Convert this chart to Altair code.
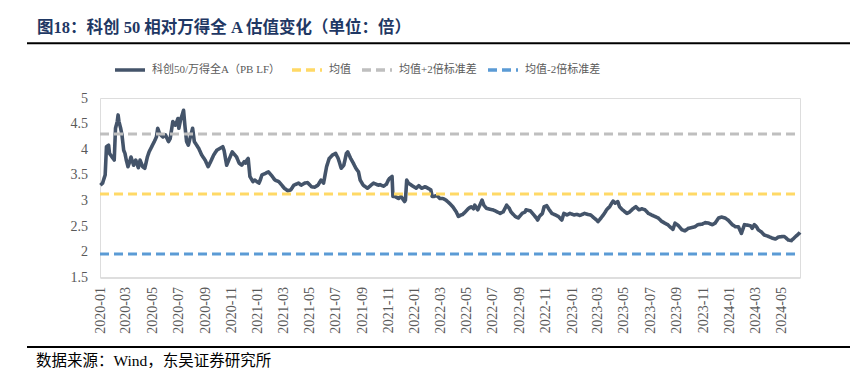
import altair as alt
import pandas as pd

# ---------------- data ----------------
dates = [
    "2020-01-02", "2020-01-07", "2020-01-13", "2020-01-16", "2020-01-21", "2020-01-23",
    "2020-02-03", "2020-02-06", "2020-02-10", "2020-02-12", "2020-02-14", "2020-02-18",
    "2020-02-21", "2020-02-25", "2020-02-28", "2020-03-02", "2020-03-06", "2020-03-10",
    "2020-03-13", "2020-03-19", "2020-03-24", "2020-03-30", "2020-04-03", "2020-04-09",
    "2020-04-14", "2020-04-20", "2020-04-24", "2020-05-06", "2020-05-11", "2020-05-14",
    "2020-05-18", "2020-05-26", "2020-06-01", "2020-06-08", "2020-06-12", "2020-06-18",
    "2020-06-24", "2020-06-30", "2020-07-02", "2020-07-06", "2020-07-13", "2020-07-16",
    "2020-07-20", "2020-07-24", "2020-07-30", "2020-08-03", "2020-08-07", "2020-08-17",
    "2020-08-24", "2020-09-01", "2020-09-08", "2020-09-14", "2020-09-21", "2020-09-28",
    "2020-10-12", "2020-10-15", "2020-10-21", "2020-10-26", "2020-11-03", "2020-11-09",
    "2020-11-13", "2020-11-19", "2020-11-25", "2020-12-01", "2020-12-04", "2020-12-07",
    "2020-12-10", "2020-12-14", "2020-12-21", "2020-12-25", "2021-01-04", "2021-01-07",
    "2021-01-11", "2021-01-19", "2021-01-26", "2021-02-04", "2021-02-10", "2021-02-19",
    "2021-02-26", "2021-03-04", "2021-03-12", "2021-03-19", "2021-03-26", "2021-04-06",
    "2021-04-12", "2021-04-20", "2021-04-27", "2021-05-06", "2021-05-13", "2021-05-21",
    "2021-05-28", "2021-06-03", "2021-06-10", "2021-06-16", "2021-06-24", "2021-07-01",
    "2021-07-07", "2021-07-14", "2021-07-20", "2021-07-26", "2021-07-29", "2021-08-05",
    "2021-08-11", "2021-08-17", "2021-08-23", "2021-08-27", "2021-09-03", "2021-09-13",
    "2021-09-17", "2021-09-27", "2021-10-08", "2021-10-12", "2021-10-20", "2021-10-27",
    "2021-11-01", "2021-11-03", "2021-11-09", "2021-11-11", "2021-11-16", "2021-11-24",
    "2021-11-30", "2021-12-08", "2021-12-10", "2021-12-13", "2021-12-17", "2021-12-24",
    "2022-01-04", "2022-01-10", "2022-01-17", "2022-01-25", "2022-02-07", "2022-02-10",
    "2022-02-14", "2022-02-21", "2022-02-28", "2022-03-07", "2022-03-14", "2022-03-22",
    "2022-03-30", "2022-04-07", "2022-04-12", "2022-04-18", "2022-04-22", "2022-04-28",
    "2022-05-06", "2022-05-12", "2022-05-17", "2022-05-20", "2022-05-27", "2022-06-06",
    "2022-06-10", "2022-06-16", "2022-06-24", "2022-07-01", "2022-07-11", "2022-07-18",
    "2022-07-25", "2022-08-02", "2022-08-08", "2022-08-12", "2022-08-22", "2022-08-29",
    "2022-09-07", "2022-09-14", "2022-09-16", "2022-09-26", "2022-10-10", "2022-10-13",
    "2022-10-17", "2022-10-24", "2022-10-28", "2022-11-03", "2022-11-09", "2022-11-15",
    "2022-11-23", "2022-11-30", "2022-12-08", "2022-12-13", "2022-12-20", "2022-12-27",
    "2023-01-05", "2023-01-12", "2023-01-19", "2023-01-30", "2023-02-06", "2023-02-13",
    "2023-02-21", "2023-02-27", "2023-03-02", "2023-03-09", "2023-03-17", "2023-03-22",
    "2023-03-29", "2023-04-06", "2023-04-11", "2023-04-17", "2023-04-21", "2023-04-28",
    "2023-05-08", "2023-05-15", "2023-05-22", "2023-05-29", "2023-06-05", "2023-06-12",
    "2023-06-19", "2023-06-27", "2023-07-04", "2023-07-12", "2023-07-20", "2023-07-27",
    "2023-08-04", "2023-08-11", "2023-08-16", "2023-08-23", "2023-08-28", "2023-09-05",
    "2023-09-13", "2023-09-20", "2023-09-28", "2023-10-09", "2023-10-13", "2023-10-20",
    "2023-10-30", "2023-11-06", "2023-11-14", "2023-11-22", "2023-11-29", "2023-12-07",
    "2023-12-14", "2023-12-22", "2023-12-29", "2024-01-08", "2024-01-15", "2024-01-22",
    "2024-01-29", "2024-02-05", "2024-02-19", "2024-02-23", "2024-02-28", "2024-03-04",
    "2024-03-08", "2024-03-15", "2024-03-22", "2024-04-01", "2024-04-09", "2024-04-17",
    "2024-04-24", "2024-05-06", "2024-05-09", "2024-05-17", "2024-05-24", "2024-06-03",
    "2024-06-11", "2024-06-13",
]

pb_values = [
    3.30, 3.34, 3.50, 4.05, 4.08, 3.92,
    3.79, 4.41, 4.54, 4.67, 4.54, 4.41,
    4.28, 3.98, 3.92, 3.79, 3.66, 3.76,
    3.85, 3.69, 3.79, 3.64, 3.79, 3.66,
    3.63, 3.85, 3.95, 4.15, 4.24, 4.41,
    4.31, 4.24, 4.28, 4.15, 4.21, 4.54,
    4.47, 4.60, 4.41, 4.57, 4.76, 4.47,
    4.15, 4.08, 4.28, 4.41, 4.15, 4.02,
    3.89, 3.79, 3.66, 3.76, 3.89, 3.98,
    4.05, 3.98, 3.69, 3.79, 3.95, 3.89,
    3.85, 3.73, 3.69, 3.76, 3.73, 3.79,
    3.82, 3.47, 3.37, 3.40, 3.34, 3.40,
    3.50, 3.53, 3.56, 3.47, 3.40, 3.37,
    3.30, 3.24, 3.19, 3.21, 3.30, 3.34,
    3.30, 3.34, 3.35, 3.27, 3.26, 3.30,
    3.40, 3.34, 3.66, 3.82, 3.89, 3.92,
    3.82, 3.63, 3.69, 3.92, 3.95, 3.82,
    3.73, 3.63, 3.56, 3.40, 3.30, 3.24,
    3.27, 3.34, 3.30, 3.31, 3.28, 3.32,
    3.41, 3.43, 3.47, 3.08, 3.08, 3.04,
    3.08, 2.98, 3.01, 3.40, 3.34, 3.30,
    3.24, 3.29, 3.24, 3.27, 3.21, 3.08,
    3.08, 3.10, 3.04, 3.04, 3.01, 2.95,
    2.88, 2.78, 2.69, 2.72, 2.73, 2.78,
    2.85, 2.88, 2.84, 2.91, 2.82, 3.01,
    2.91, 2.85, 2.83, 2.82, 2.78, 2.75,
    2.78, 2.91, 2.85, 2.78, 2.69, 2.66,
    2.75, 2.78, 2.82, 2.80, 2.66, 2.62,
    2.69, 2.75, 2.88, 2.90, 2.82, 2.75,
    2.72, 2.69, 2.62, 2.75, 2.72, 2.75,
    2.72, 2.73, 2.71, 2.75, 2.73, 2.72,
    2.66, 2.62, 2.59, 2.66, 2.75, 2.82,
    2.88, 2.99, 2.95, 2.98, 2.88, 2.82,
    2.75, 2.78, 2.84, 2.88, 2.82, 2.84,
    2.82, 2.75, 2.72, 2.69, 2.66, 2.60,
    2.56, 2.53, 2.49, 2.44, 2.56, 2.51,
    2.43, 2.41, 2.46, 2.48, 2.49, 2.53,
    2.54, 2.57, 2.56, 2.53, 2.56, 2.66,
    2.68, 2.66, 2.62, 2.53, 2.49, 2.49,
    2.36, 2.53, 2.51, 2.46, 2.53, 2.49,
    2.43, 2.39, 2.33, 2.30, 2.27, 2.25,
    2.29, 2.30, 2.29, 2.23, 2.22, 2.30,
    2.36, 2.38,
]

SERIES = ["科创50/万得全A（PB LF）", "均值", "均值+2倍标准差", "均值-2倍标准差"]
LEVELS = [3.13, 4.30, 1.96]          # 均值, 均值+2倍标准差, 均值-2倍标准差
COLORS = ["#44546A", "#FFD966", "#BFBFBF", "#5B9BD5"]
DASHES = [[1, 0], [9, 5], [9, 5], [9, 5]]
X_START = (2020, 1, 1)
X_END = (2024, 6, 13)
TICK_MONTHS = [(y, m) for y in range(2020, 2025) for m in (1, 3, 5, 7, 9, 11)
               if (y, m) <= (2024, 5)]
Y_TICKS = [1.5, 2, 2.5, 3, 3.5, 4, 4.5, 5]
TITLE = "图18：科创 50 相对万得全 A 估值变化（单位：倍）"
SOURCE = "数据来源：Wind，东吴证券研究所"

FONT = "'Liberation Serif', 'Noto Sans CJK SC'"
LABEL_COLOR = "#595959"

# ---------------- tables ----------------
pb_df = pd.DataFrame({"date": dates, "value": pb_values, "series": SERIES[0]})
start_s = "%04d-%02d-%02d" % X_START
end_s = "%04d-%02d-%02d" % X_END
ref_rows = []
for name, level in zip(SERIES[1:], LEVELS):
    ref_rows.append({"date": start_s, "value": level, "series": name})
    ref_rows.append({"date": end_s, "value": level, "series": name})
ref_df = pd.DataFrame(ref_rows)

W, H = 700, 179.5

x_enc = alt.X(
    "date:T",
    scale=alt.Scale(
        type="utc",
        domain=[alt.DateTime(year=X_START[0], month=X_START[1], date=X_START[2], utc=True),
                alt.DateTime(year=X_END[0], month=X_END[1], date=X_END[2], utc=True)],
        nice=False,
    ),
    axis=alt.Axis(
        values=[alt.DateTime(year=y, month=m, date=1, utc=True) for y, m in TICK_MONTHS],
        labelExpr="utcFormat(datum.value, '%Y-%m')",
        labelAngle=270, labelAlign="right",
        labelBaseline="middle", labelPadding=9, ticks=False, grid=False,
        domainColor="#D9D9D9", domainWidth=1.5, labelFont=FONT, labelFontSize=14,
        labelColor=LABEL_COLOR, title=None, labelOverlap=False, labelFlush=False,
    ),
)
y_enc = alt.Y(
    "value:Q",
    scale=alt.Scale(domain=[1.5, 5], nice=False, zero=False),
    axis=alt.Axis(values=Y_TICKS, format="~g", domain=False, ticks=False, grid=False,
                  labelPadding=12.5, labelFont=FONT, labelFontSize=14,
                  labelColor=LABEL_COLOR, title=None),
)
legend = alt.Legend(
    orient="none", legendX=13, legendY=-45, direction="horizontal", columns=4,
    symbolType="stroke", symbolSize=900, symbolStrokeWidth=3.5,
    labelFont=FONT, labelFontSize=11, labelColor=LABEL_COLOR, labelOffset=5,
    columnPadding=4, padding=0, title=None,
)
color_enc = alt.Color("series:N", scale=alt.Scale(domain=SERIES, range=COLORS),
                      sort=SERIES, legend=legend)
dash_enc = alt.StrokeDash("series:N", scale=alt.Scale(domain=SERIES, range=DASHES),
                          sort=SERIES, legend=legend)

pb_line = alt.Chart(pb_df).mark_line(strokeWidth=3.6, strokeJoin="round").encode(
    x=x_enc, y=y_enc, color=color_enc, strokeDash=dash_enc
)
ref_lines = alt.Chart(ref_df).mark_line(strokeWidth=3).encode(
    x=x_enc, y=y_enc, color=color_enc, strokeDash=dash_enc, detail="series:N"
)

one = alt.Data(values=[{"a": 1}])
title_text = alt.Chart(alt.Data(values=[{"t": TITLE}])).mark_text(
    font=FONT, fontSize=16.5, fontWeight="bold", color="#1F3864",
    align="left", baseline="middle"
).encode(text="t:N", x=alt.value(-63), y=alt.value(-70.5))
title_rule = alt.Chart(one).mark_rule(color="#000000", strokeWidth=2).encode(
    x=alt.value(-73), x2=alt.value(750), y=alt.value(-54.7)
)
bottom_rule = alt.Chart(one).mark_rule(color="#000000", strokeWidth=2).encode(
    x=alt.value(-73), x2=alt.value(750), y=alt.value(249)
)
source_text = alt.Chart(alt.Data(values=[{"t": SOURCE}])).mark_text(
    font=FONT, fontSize=15.5, color="#000000", align="left", baseline="middle"
).encode(text="t:N", x=alt.value(-64), y=alt.value(262.5))

chart = alt.layer(
    pb_line, ref_lines, title_text, title_rule, bottom_rule, source_text
).properties(
    width=W, height=H,
    autosize=alt.AutoSizeParams(type="none"),
    padding={"left": 92, "top": 90, "right": 55, "bottom": 90},
).configure_view(stroke=None).configure(background="white")

chart.save("out.html", embed_options={"renderer": "svg", "actions": False})
